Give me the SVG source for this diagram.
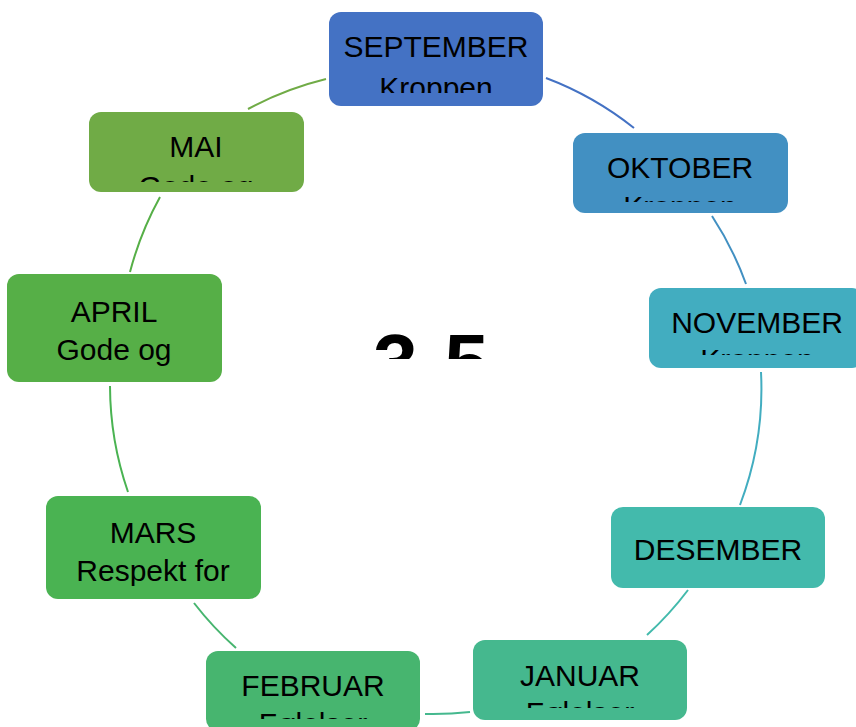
<svg xmlns="http://www.w3.org/2000/svg" width="856" height="727" viewBox="0 0 856 727">
<style>
.t{font-family:"Liberation Sans",Arial,sans-serif;font-size:30px;fill:#000;text-anchor:middle}
.c{fill:none;stroke-width:2}
.big{font-family:"Liberation Sans",Arial,sans-serif;font-size:80px;font-weight:bold;fill:#000;text-anchor:middle}
</style>
<defs>
<clipPath id="cSep"><rect x="329" y="12" width="214" height="81"/></clipPath>
<clipPath id="cOkt"><rect x="573" y="133" width="215" height="69"/></clipPath>
<clipPath id="cNov"><rect x="649" y="288" width="215" height="67"/></clipPath>
<clipPath id="cDes"><rect x="611" y="507" width="214" height="68"/></clipPath>
<clipPath id="cJan"><rect x="473" y="640" width="214" height="68"/></clipPath>
<clipPath id="cFeb"><rect x="206" y="651" width="214" height="68"/></clipPath>
<clipPath id="cMar"><rect x="46" y="496" width="215" height="90"/></clipPath>
<clipPath id="cApr"><rect x="7" y="274" width="215" height="95"/></clipPath>
<clipPath id="cMai"><rect x="89" y="112" width="215" height="70"/></clipPath>
<clipPath id="cMid"><rect x="330" y="310" width="200" height="49"/></clipPath>
</defs>
<rect width="856" height="727" fill="#fff"/>
<g id="connectors">
<path class="c" stroke="#4472C4" d="M546,78 A327,327 0 0 1 634,128"/>
<path class="c" stroke="#4290C2" d="M712,216 A327,327 0 0 1 746,284"/>
<path class="c" stroke="#42ADC0" d="M761,372 A327,327 0 0 1 740,505"/>
<path class="c" stroke="#43BAAC" d="M688,590 A327,327 0 0 1 647,635"/>
<path class="c" stroke="#45B88E" d="M470,712 A327,327 0 0 1 425,714"/>
<path class="c" stroke="#47B56F" d="M236,648 A327,327 0 0 1 194,603"/>
<path class="c" stroke="#4AB352" d="M128,492 A327,327 0 0 1 110,386"/>
<path class="c" stroke="#56AF47" d="M130,272 A327,327 0 0 1 160,197"/>
<path class="c" stroke="#70AB46" d="M248,109 A327,327 0 0 1 326,79"/>
</g>
<g id="center"><text class="big" x="431" y="390" clip-path="url(#cMid)">3-5</text></g>
<g id="sep"><rect x="329" y="12" width="214" height="94" rx="12" fill="#4472C4"/>
<g clip-path="url(#cSep)"><text class="t" x="436" y="57">SEPTEMBER</text><text class="t" x="436" y="98">Kroppen</text></g></g>
<g id="okt"><rect x="573" y="133" width="215" height="80" rx="12" fill="#4290C2"/>
<g clip-path="url(#cOkt)"><text class="t" x="680" y="178">OKTOBER</text><text class="t" x="680" y="217">Kroppen</text></g></g>
<g id="nov"><rect x="649" y="288" width="215" height="80" rx="12" fill="#42ADC0"/>
<g clip-path="url(#cNov)"><text class="t" x="757" y="333">NOVEMBER</text><text class="t" x="757" y="370">Kroppen</text></g></g>
<g id="des"><rect x="611" y="507" width="214" height="81" rx="12" fill="#43BAAC"/>
<g clip-path="url(#cDes)"><text class="t" x="718" y="560">DESEMBER</text></g></g>
<g id="jan"><rect x="473" y="640" width="214" height="80" rx="12" fill="#45B88E"/>
<g clip-path="url(#cJan)"><text class="t" x="580" y="686">JANUAR</text><text class="t" x="580" y="723">Følelser</text></g></g>
<g id="feb"><rect x="206" y="651" width="214" height="80" rx="12" fill="#47B56F"/>
<g clip-path="url(#cFeb)"><text class="t" x="313" y="696">FEBRUAR</text><text class="t" x="313" y="734">Følelser</text></g></g>
<g id="mar"><rect x="46" y="496" width="215" height="103" rx="12" fill="#4AB352"/>
<g clip-path="url(#cMar)"><text class="t" x="153" y="543">MARS</text><text class="t" x="153" y="581">Respekt for</text></g></g>
<g id="apr"><rect x="7" y="274" width="215" height="108" rx="12" fill="#56AF47"/>
<g clip-path="url(#cApr)"><text class="t" x="114" y="322">APRIL</text><text class="t" x="114" y="360">Gode og</text></g></g>
<g id="mai"><rect x="89" y="112" width="215" height="80" rx="12" fill="#70AB46"/>
<g clip-path="url(#cMai)"><text class="t" x="196" y="157">MAI</text><text class="t" x="196" y="197">Gode og</text></g></g>
</svg>
